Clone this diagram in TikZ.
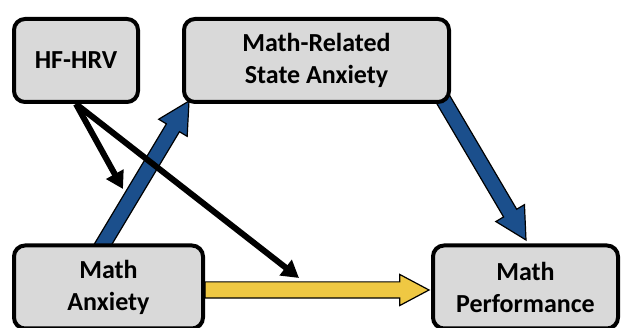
\documentclass[tikz,border=0pt]{standalone}
\usepackage{fontspec}
\setmainfont{Carlito}
\usepackage{xcolor}
\usetikzlibrary{arrows.meta,shapes.arrows,calc}
\definecolor{boxgray}{HTML}{D9D9D9}
\definecolor{pathblue}{HTML}{1B4F8C}
\definecolor{pathgold}{HTML}{EFC843}
\pgfdeclarelayer{bg}
\pgfsetlayers{bg,main}
\tikzset{
  var/.style={rectangle,draw,line width=4pt,rounded corners=11pt,fill=boxgray,align=center,
    inner sep=0pt,font=\fontsize{26}{32}\selectfont\bfseries},
  fat/.style={single arrow,draw=black,line width=1.2pt,inner xsep=0pt,inner ysep=7pt,outer sep=0pt,
    anchor=tail,single arrow head extend=9pt,single arrow tip angle=56},
  modline/.style={draw=black,line width=6pt,-{Triangle[length=17pt,width=19pt]}}
}
\newcommand\fatpath[4][]{\path let \p1=($(#4)-(#3)$),\n1={atan2(\y1,\x1)},\n2={veclen(\x1,\y1)} in
  node[fat,fill=#2,rotate=\n1,minimum height=\n2,#1] at (#3) {};}

\begin{document}
\begin{tikzpicture}[x=1pt,y=-1pt]
\path[use as bounding box] (0,0) rectangle (622,328);
\node at (76,60.5) [var,minimum width=124pt,minimum height=83pt] (hrv) {HF-HRV};
\node at (316.5,60.5) [var,minimum width=265pt,minimum height=83pt] (state) {Math-Related\\State Anxiety};
\node at (108.5,287) [var,minimum width=189pt,minimum height=83pt] (anx) {Math\\Anxiety};
\node at (525.5,287) [var,minimum width=185pt,minimum height=83pt] (perf) {Math\\Performance};
\coordinate (a1) at (99,251);
\coordinate (a2) at (189,101);
\coordinate (b1) at (437,89);
\coordinate (b2) at (526,240);
\coordinate (c1) at ($(anx.east)+(0,3)$);
\coordinate (c2) at ($(perf.west)+(-2,3)$);
\coordinate (h1) at (123,189);
\coordinate (h2) at (299,278);
\begin{pgfonlayer}{bg}
\fatpath{pathblue}{a1}{a2}
\fatpath{pathblue}{b1}{b2}
\fatpath[inner ysep=7.5pt,single arrow head extend=7.5pt]{pathgold}{c1}{c2}
\draw[modline] (hrv.south) -- (h1);
\draw[modline] (hrv.south) -- (h2);
\end{pgfonlayer}
\end{tikzpicture}
\end{document}
